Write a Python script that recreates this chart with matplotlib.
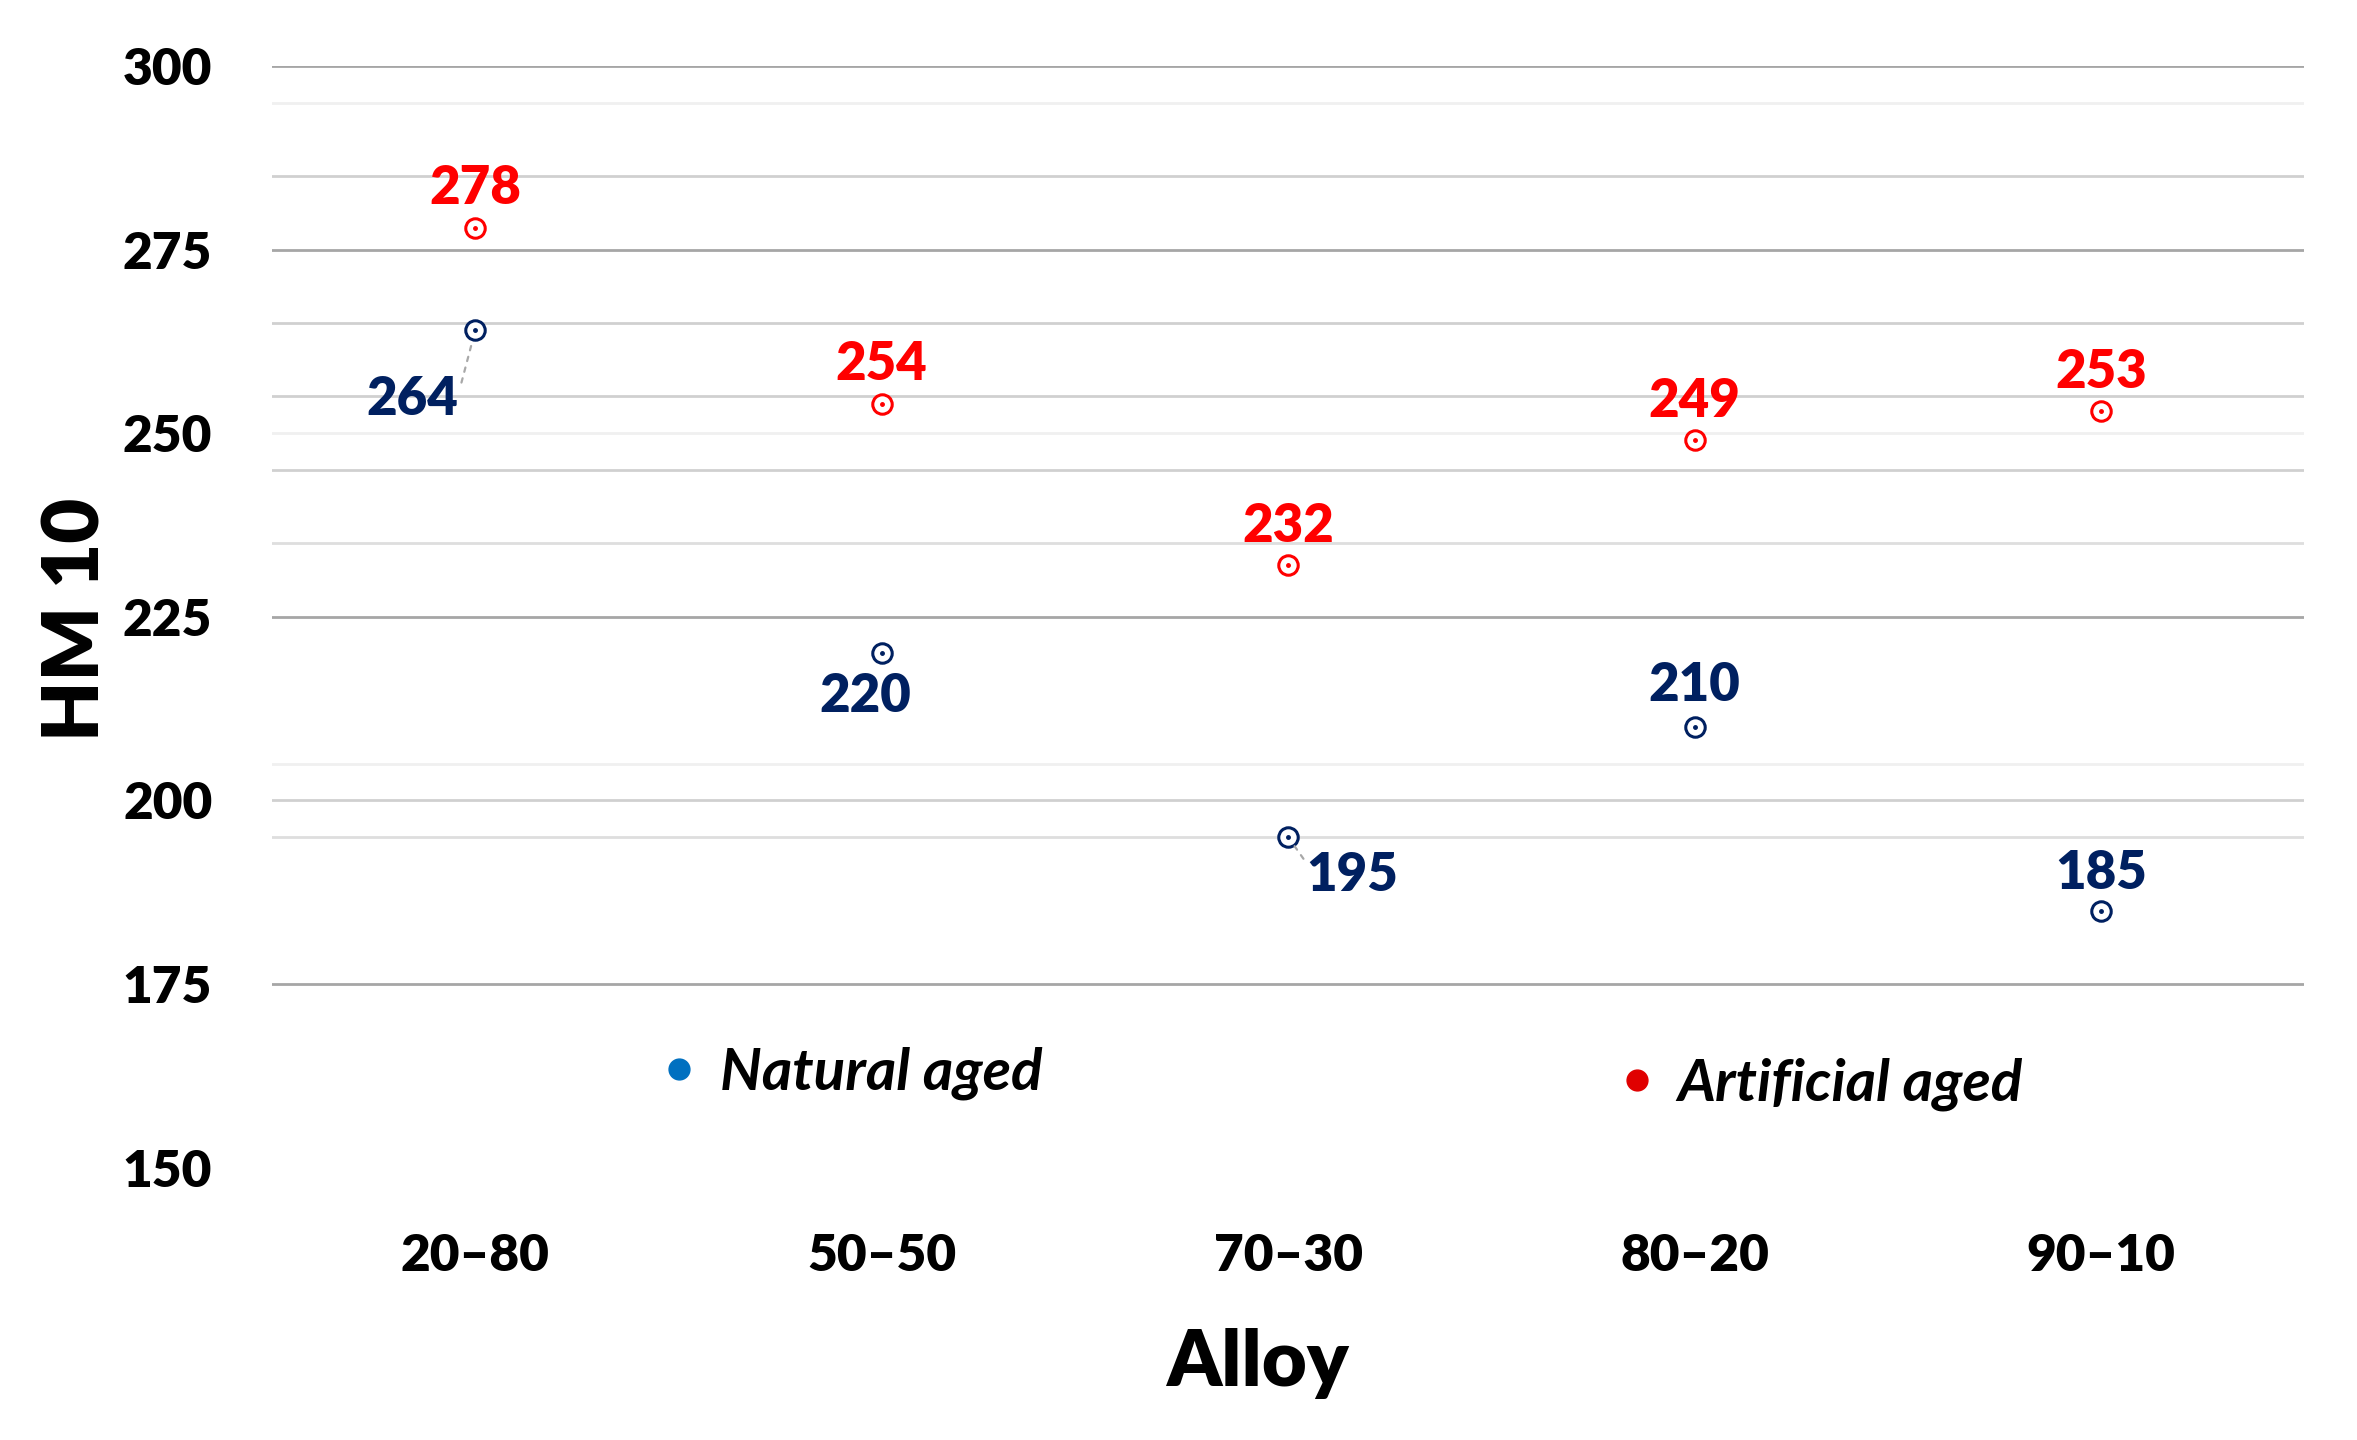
import matplotlib
matplotlib.use('Agg')
import matplotlib.pyplot as plt
from matplotlib.lines import Line2D

plt.rcParams['font.family'] = ['Lato', 'DejaVu Sans']

# data
alloys = ['20–80', '50–50', '70–30', '80–20', '90–10']
natural_aged = [264, 220, 195, 210, 185]
artificial_aged = [278, 254, 232, 249, 253]
y_ticks = [150, 175, 200, 225, 250, 275, 300]

# the gridlines of the original come in a few shades
grid_dark = [300, 275, 225, 175]
grid_mid = [285, 265, 255, 245, 200]
grid_light = [235, 195]
grid_faint = [295, 250, 205]

# label offsets in points (dx, dy) for the natural aged labels
nat_offsets = [(-45, -50), (-12, -31), (46, -28), (0, 30), (0, 27)]
# where the leader line leaves the label box (None = no leader line)
nat_leader = [(1.03, 0.85), None, (-0.03, 0.85), None, None]
art_offset = (0, 28)

navy = '#002060'
red = '#ff0000'

fig = plt.figure(figsize=(23.57, 14.4), dpi=100)
ax = fig.add_axes([0.1154, 0.1892, 0.8623, 0.7650])

for v in grid_dark:
    ax.axhline(v, color='#a6a6a6', lw=2.0, zorder=1)
for v in grid_mid:
    ax.axhline(v, color='#d0d0d0', lw=2.0, zorder=1)
for v in grid_light:
    ax.axhline(v, color='#dedede', lw=2.0, zorder=1)
for v in grid_faint:
    ax.axhline(v, color='#f0f0f0', lw=2.0, zorder=1)

x = list(range(len(alloys)))

ax.plot(x, natural_aged, ls='none', marker='o', ms=14, mfc='white', mec=navy, mew=2.2, zorder=3)
ax.plot(x, natural_aged, ls='none', marker='o', ms=2.5, mfc=navy, mec=navy, zorder=4)
ax.plot(x, artificial_aged, ls='none', marker='o', ms=14, mfc='white', mec=red, mew=2.2, zorder=3)
ax.plot(x, artificial_aged, ls='none', marker='o', ms=2.5, mfc=red, mec=red, zorder=4)

for i, v in enumerate(artificial_aged):
    ax.annotate(str(v), (i, v), xytext=art_offset, textcoords='offset points',
                ha='center', va='center', color=red, fontsize=38, fontweight='heavy', zorder=5)

for i, v in enumerate(natural_aged):
    dx, dy = nat_offsets[i]
    arrow = None
    if nat_leader[i] is not None:
        arrow = dict(arrowstyle='-', linestyle=(0, (2, 3)), color='#a8a8a8', lw=1.6,
                     shrinkA=0, shrinkB=8, relpos=nat_leader[i])
    ax.annotate(str(v), (i, v), xytext=(dx, dy), textcoords='offset points',
                ha='center', va='center', color=navy, fontsize=38, fontweight='heavy',
                arrowprops=arrow, zorder=5)

ax.set_xlim(-0.5, 4.5)
ax.set_ylim(150, 300)
ax.set_xticks(x)
ax.set_xticklabels(alloys)
ax.set_yticks(y_ticks)
ax.tick_params(axis='both', length=0, labelsize=37, colors='black')
ax.tick_params(axis='x', pad=47)
ax.tick_params(axis='y', pad=43)
for lab in ax.get_xticklabels() + ax.get_yticklabels():
    lab.set_fontweight('heavy')

for s in ax.spines.values():
    s.set_visible(False)

ax.set_ylabel('HM 10', fontsize=56, fontweight='heavy')
ax.yaxis.set_label_coords(-0.0960, 0.498)
ax.yaxis.label.set_va('center')
ax.set_xlabel('Alloy', fontsize=56, fontweight='heavy')
ax.xaxis.set_label_coords(0.4850, -0.178)
ax.xaxis.label.set_va('center')

# two separate legend entries, as in the original
h_nat = Line2D([], [], ls='none', marker='o', ms=15, color='#0070c0')
h_art = Line2D([], [], ls='none', marker='o', ms=15, color='#e00000')
leg1 = ax.legend(handles=[h_nat], labels=['Natural aged'], loc='center left',
                 bbox_to_anchor=(0.166, 0.086), frameon=False, handlelength=0.6,
                 handletextpad=0.40, prop=dict(size=42, weight='bold', style='italic'))
ax.add_artist(leg1)
ax.legend(handles=[h_art], labels=['Artificial aged'], loc='center left',
          bbox_to_anchor=(0.637, 0.076), frameon=False, handlelength=0.6,
          handletextpad=0.40, prop=dict(size=42, weight='bold', style='italic'))

fig.savefig('out.png', dpi=100)
